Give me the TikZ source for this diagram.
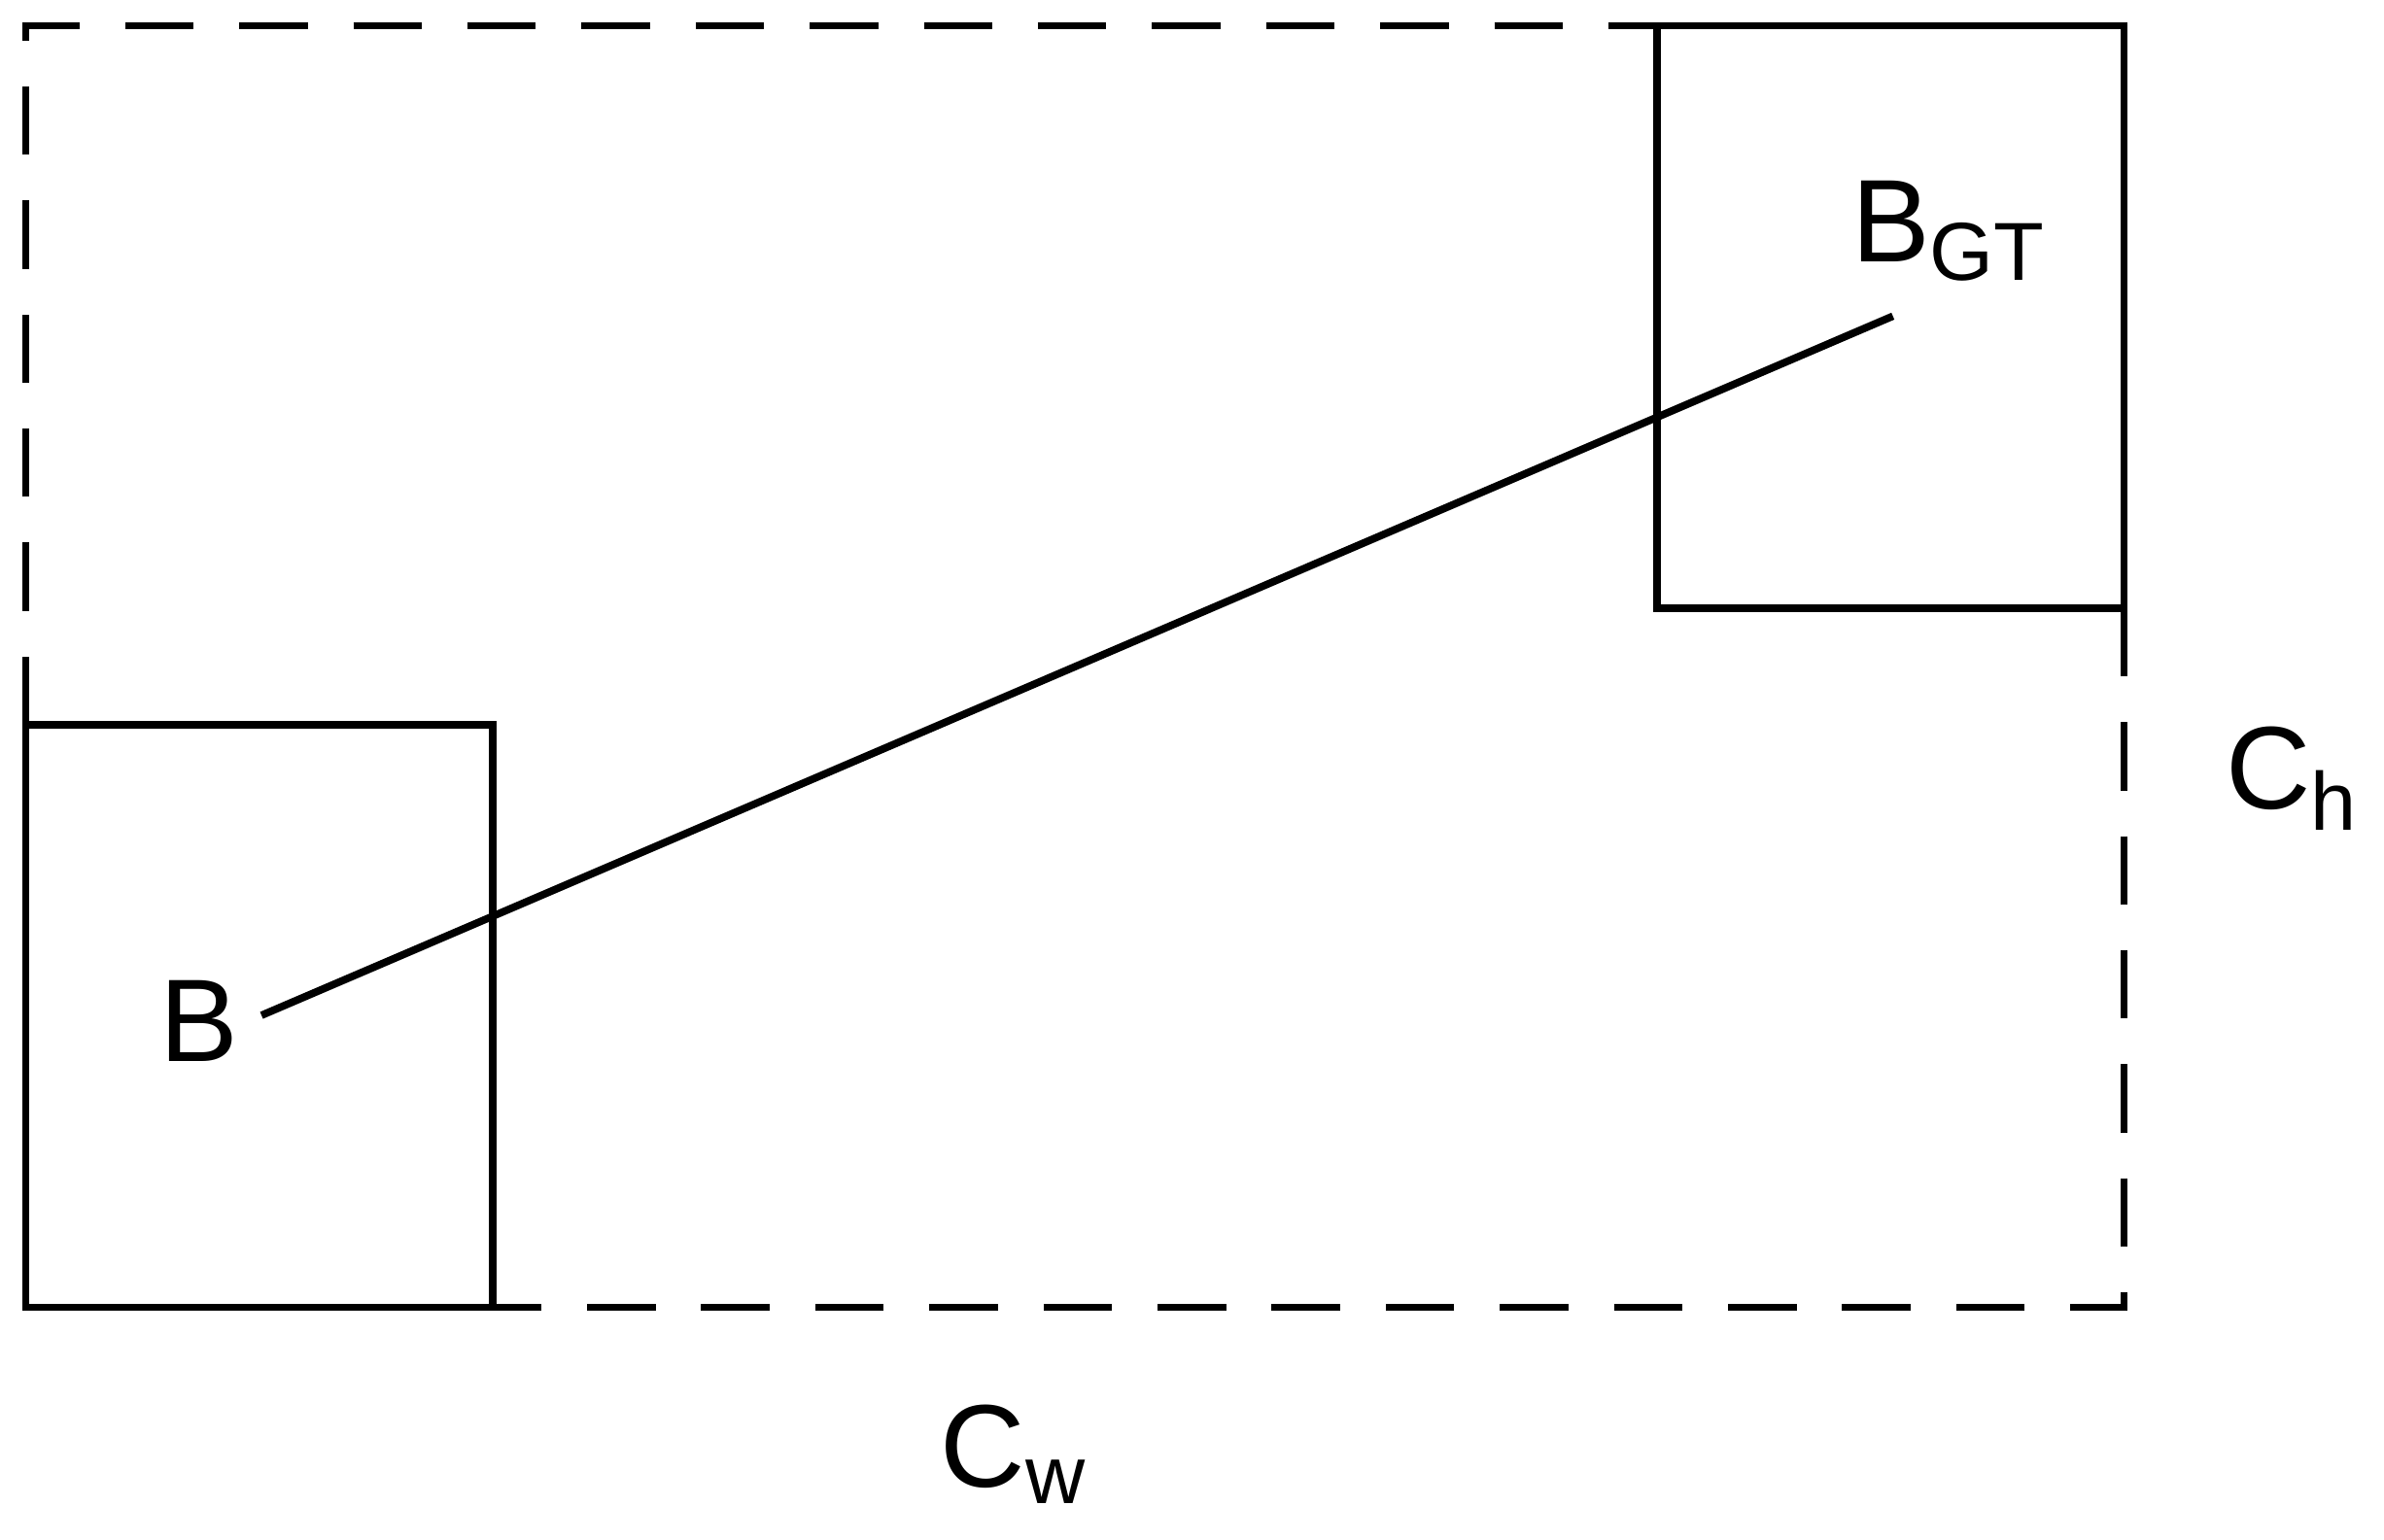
\documentclass[tikz,border=0pt]{standalone}
\usepackage{fontspec}
\setmainfont{Liberation Sans}
\begin{document}
\begin{tikzpicture}[x=0.01cm,y=-0.01cm,line width=1.4pt,
  lbl/.style={font=\fontsize{22}{26}\selectfont, inner sep=0pt},
  longdash/.style={dash pattern=on 0.45cm off 0.3cm}]
\useasboundingbox (0,0) rectangle (1568,1013);
\draw[longdash] (17,477) -- (17,17) -- (1090,17);
\draw[longdash] (1397,400) -- (1397,860) -- (324,860);
\draw (17,477) rectangle (324,860);
\draw (1090,17) rectangle (1397,400);
\coordinate (a) at (172,668);
\coordinate (b) at (1245,208);
\draw (a) -- (b);
\node[lbl] (lb) at (131,672) {B};
\node[lbl] (lgt) at (1282,152) {B\textsubscript{GT}};
\node[lbl] (lh) at (1508,512) {C\textsubscript{h}};
\node[lbl] (lw) at (667,957) {C\textsubscript{w}};
\end{tikzpicture}
\end{document}
